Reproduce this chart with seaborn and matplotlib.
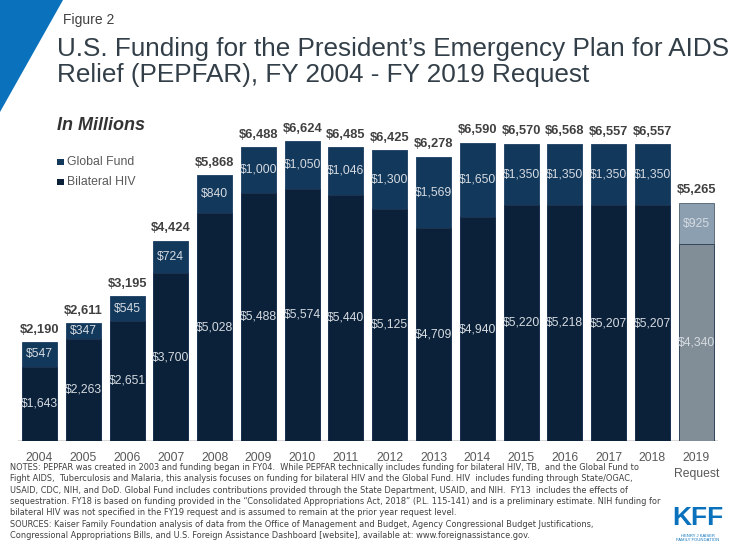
import matplotlib
matplotlib.use("Agg")
import matplotlib.pyplot as plt
from matplotlib.patches import Polygon, Rectangle
from matplotlib import font_manager
import seaborn as sns
import pandas as pd

years = ["2004", "2005", "2006", "2007", "2008", "2009", "2010", "2011",
         "2012", "2013", "2014", "2015", "2016", "2017", "2018", "2019"]
tick_labels = ["2004", "2005", "2006", "2007", "2008", "2009", "2010", "2011",
               "2012", "2013", "2014", "2015", "2016", "2017", "2018", "2019\nRequest"]
bilateral_hiv = [1643, 2263, 2651, 3700, 5028, 5488, 5574, 5440,
                 5125, 4709, 4940, 5220, 5218, 5207, 5207, 4340]
global_fund = [547, 347, 545, 724, 840, 1000, 1050, 1046,
               1300, 1569, 1650, 1350, 1350, 1350, 1350, 925]
total_labels = [2190, 2611, 3195, 4424, 5868, 6488, 6624, 6485,
                6425, 6278, 6590, 6570, 6568, 6557, 6557, 5265]

df = pd.DataFrame({"year": years, "bilateral": bilateral_hiv, "gf": global_fund})
df["stack"] = df["bilateral"] + df["gf"]

C_BIL = "#0b2139"
C_GF = "#12385c"
C_BIL_REQ = "#818e98"
C_GF_REQ = "#8b9fb1"

sns.set_theme(style="white")
plt.rcParams["font.family"] = ["Liberation Sans", "DejaVu Sans"]

# choose a narrow family for the notes if one is installed
narrow_family = None
narrow_stretch = "normal"
for fam, stretch in [("Liberation Sans Narrow", "normal"),
                     ("Liberation Sans Narrow", "condensed"),
                     ("DejaVu Sans", "condensed")]:
    try:
        fp = font_manager.FontProperties(family=fam, stretch=stretch)
        path = font_manager.findfont(fp, fallback_to_default=False)
        if "Narrow" in path or "Condensed" in path:
            narrow_family, narrow_stretch = fam, stretch
            break
    except Exception:
        pass
if narrow_family is None:
    narrow_family = "Liberation Sans"

fig = plt.figure(figsize=(7.35, 5.51), dpi=100)
ax = fig.add_axes([0.024, 0.1996, 0.953, 0.5753])

gf_pal = [C_GF] * 15 + [C_GF_REQ]
bil_pal = [C_BIL] * 15 + [C_BIL_REQ]
edge_gf = ["#2a4a6b"] * 15 + ["#5d6d7a"]
edge_bil = ["#1d3350"] * 15 + ["#33475a"]

sns.barplot(data=df, x="year", y="stack", hue="year", palette=gf_pal,
            order=years, hue_order=years, legend=False, width=0.8,
            dodge=False, ax=ax, saturation=1, linewidth=0)
n_first = len(ax.patches)
sns.barplot(data=df, x="year", y="bilateral", hue="year", palette=bil_pal,
            order=years, hue_order=years, legend=False, width=0.8,
            dodge=False, ax=ax, saturation=1, linewidth=0)

gf_bars = ax.patches[:n_first]
bil_bars = ax.patches[n_first:]
for p, ec in zip(gf_bars, edge_gf):
    p.set_edgecolor(ec)
    p.set_linewidth(0.7)
for p, ec in zip(bil_bars, edge_bil):
    p.set_edgecolor(ec)
    p.set_linewidth(0.7)

ax.set_xlim(-0.5, 15.5)
ax.set_ylim(0, 7000)
for s in ax.spines.values():
    s.set_visible(False)
ax.axhline(0, color="#d9d9d9", lw=2.2, zorder=0)
ax.set_yticks([])
ax.set_xlabel("")
ax.set_ylabel("")
ax.set_xticks(range(len(years)))
ax.set_xticklabels(tick_labels, fontsize=8.7, color="#595959", linespacing=1.45)
ax.tick_params(axis="x", length=0, pad=8)

lab_col = "#d6dbe1"
for i in range(len(years)):
    b = bilateral_hiv[i]
    g = global_fund[i]
    ax.text(i, b / 2, f"${b:,}", ha="center", va="center", fontsize=8.7,
            color=lab_col)
    ax.text(i, b + g / 2, f"${g:,}", ha="center", va="center", fontsize=8.7,
            color=lab_col)
    ax.annotate(f"${total_labels[i]:,}", (i, b + g), xytext=(0, 4.5),
                textcoords="offset points", ha="center", va="bottom",
                fontsize=9.3, fontweight="bold", color="#404040")

# decorative corner triangle
fig.add_artist(Polygon([[0, 1], [63 / 735, 1], [0, 1 - 112 / 551]],
                       closed=True, transform=fig.transFigure,
                       facecolor="#0a72bd", edgecolor="none"))

fig.text(63 / 735, 1 - 20 / 551, "Figure 2", fontsize=10, color="#404040",
         va="center", ha="left")
fig.text(57 / 735, 1 - 62 / 551,
         "U.S. Funding for the President\u2019s Emergency Plan for AIDS\n"
         "Relief (PEPFAR), FY 2004 - FY 2019 Request",
         fontsize=18.8, color="#333f48", va="center", ha="left", linespacing=1.12)
fig.text(57 / 735, 1 - 126 / 551, "In Millions", fontsize=13,
         fontweight="bold", fontstyle="italic", color="#333333",
         va="center", ha="left")

# legend
for yy, lab, col in [(162, "Global Fund", C_GF), (182, "Bilateral HIV", C_BIL)]:
    fig.add_artist(Rectangle((57 / 735, 1 - (yy + 3) / 551), 6.5 / 735, 6.5 / 551,
                             transform=fig.transFigure, facecolor=col,
                             edgecolor="none"))
    fig.text(67 / 735, 1 - yy / 551, lab, fontsize=8.8, color="#595959",
             va="center", ha="left")

notes_lines = [
    "NOTES: PEPFAR was created in 2003 and funding began in FY04.  While PEPFAR technically includes funding for bilateral HIV, TB,  and the Global Fund to",
    "Fight AIDS,  Tuberculosis and Malaria, this analysis focuses on funding for bilateral HIV and the Global Fund. HIV  includes funding through State/OGAC,",
    "USAID, CDC, NIH, and DoD. Global Fund includes contributions provided through the State Department, USAID, and NIH.  FY13  includes the effects of",
    "sequestration. FY18 is based on funding provided in the \u201cConsolidated Appropriations Act, 2018\u201d (P.L. 115-141) and is a preliminary estimate. NIH funding for",
    "bilateral HIV was not specified in the FY19 request and is assumed to remain at the prior year request level.",
    "SOURCES: Kaiser Family Foundation analysis of data from the Office of Management and Budget, Agency Congressional Budget Justifications,",
    "Congressional Appropriations Bills, and U.S. Foreign Assistance Dashboard [website], available at: www.foreignassistance.gov.",
]
notes = "\n".join(notes_lines)
note_size = 7.3
nt = fig.text(10 / 735, 1 - 463 / 551, notes, fontsize=note_size, color="#404040",
              va="top", ha="left", linespacing=1.2,
              family=[narrow_family, "DejaVu Sans"], fontstretch=narrow_stretch)
# shrink until widest line fits the reference's width (~650 px)
renderer = fig.canvas.get_renderer()
for _ in range(20):
    w = nt.get_window_extent(renderer).width
    if w <= 652:
        break
    note_size *= 652 / w
    nt.set_fontsize(note_size)
    nt.set_linespacing(1.2 * 7.3 / note_size if note_size < 7.3 else 1.2)

fig.text(698 / 735, 1 - 518 / 551, "KFF", fontsize=19, fontweight="bold",
         color="#0a72bd", ha="center", va="center")
fig.text(698 / 735, 1 - 538 / 551, "HENRY J KAISER\nFAMILY FOUNDATION",
         fontsize=3.0, color="#0a72bd", ha="center", va="center",
         linespacing=1.1)

fig.savefig("out.png", dpi=100)
